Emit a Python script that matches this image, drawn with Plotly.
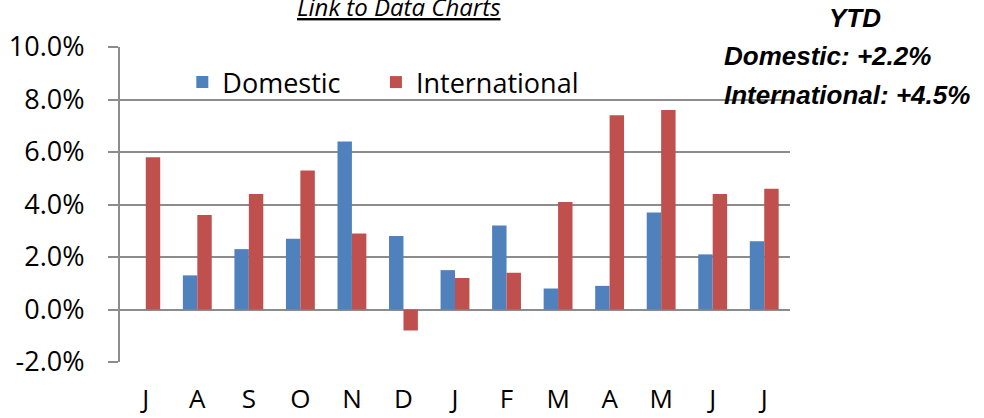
import plotly.graph_objects as go

# Monthly traffic growth, July through July
months = ["J", "A", "S", "O", "N", "D", "J", "F", "M", "A", "M", "J", "J"]
domestic = [None, 1.3, 2.3, 2.7, 6.4, 2.8, 1.5, 3.2, 0.8, 0.9, 3.7, 2.1, 2.6]
international = [5.8, 3.6, 4.4, 5.3, 2.9, -0.8, 1.2, 1.4, 4.1, 7.4, 7.6, 4.4, 4.6]

ytd_domestic = 2.2
ytd_international = 4.5

y_ticks = [-2, 0, 2, 4, 6, 8, 10]

BLUE = "#4F81BD"
RED = "#C0504D"
GRID = "#8C8C8C"
LABEL_FONT = "Open Sans"

x_idx = list(range(len(months)))
y_min, y_max = y_ticks[0], y_ticks[-1]

fig = go.Figure()
fig.add_trace(go.Bar(x=x_idx, y=domestic, name="Domestic", legend="legend",
                     marker=dict(color=BLUE, line=dict(width=0))))
fig.add_trace(go.Bar(x=x_idx, y=international, name="International",
                     legend="legend2",
                     marker=dict(color=RED, line=dict(width=0))))

legend_style = dict(
    orientation="h", xanchor="left", y=0.965, yanchor="top",
    bgcolor="rgba(0,0,0,0)", borderwidth=0,
    font=dict(family=LABEL_FONT, size=27, color="black"),
)

fig.update_layout(
    template="none",
    width=984, height=418,
    margin=dict(l=120, r=194, t=47, b=56, pad=0),
    paper_bgcolor="white", plot_bgcolor="white",
    barmode="group", bargap=0.44, bargroupgap=0,
    font=dict(family=LABEL_FONT, color="black"),
    showlegend=True,
    legend=dict(x=0.093, **legend_style),
    legend2=dict(x=0.382, **legend_style),
    xaxis=dict(
        range=[-0.5, len(months) - 0.5], automargin=False,
        tickmode="array", tickvals=x_idx, ticktext=months,
        ticks="", showline=False, showgrid=False, zeroline=False,
        tickfont=dict(family=LABEL_FONT, size=26, color="black"),
        ticklabelstandoff=19,
    ),
    # category axis drawn along the zero line, with ticks between months
    xaxis2=dict(
        overlaying="x", anchor="free", automargin=False,
        position=(0 - y_min) / (y_max - y_min),
        range=[-0.5, len(months) - 0.5],
        tickmode="array", tickvals=[i - 0.5 for i in range(len(months) + 1)],
        ticks="outside", ticklen=10, tickwidth=2, tickcolor=GRID,
        showticklabels=False, showline=True, linecolor=GRID, linewidth=2,
        showgrid=False, zeroline=False,
    ),
    yaxis=dict(
        range=[y_min, y_max], automargin=False,
        tickmode="array", tickvals=y_ticks,
        ticktext=[f"{v:.1f}%" for v in y_ticks],
        ticks="outside", ticklen=10, tickwidth=2, tickcolor=GRID,
        showline=True, linecolor=GRID, linewidth=2,
        showgrid=True, gridcolor=GRID, gridwidth=2,
        zeroline=False,
        tickfont=dict(family=LABEL_FONT, size=27, color="black"),
        ticklabelstandoff=18,
    ),
)

# white panels behind the legend and the YTD summary
fig.add_shape(type="rect", xref="paper", yref="paper",
              x0=0.0507, x1=0.736, y0=0.816, y1=0.952,
              fillcolor="white", line=dict(width=0), layer="between")
fig.add_shape(type="rect", xref="paper", yref="paper",
              x0=0.87, x1=1.3, y0=0.77, y1=1.2,
              fillcolor="white", line=dict(width=0), layer="between")

ytd_font = dict(family="Liberation Sans", size=26, color="black",
                weight="bold", style="italic")
fig.add_annotation(xref="paper", yref="paper", x=1.097, y=1.092,
                   text="YTD", showarrow=False, xanchor="center",
                   yanchor="middle", font=ytd_font)
fig.add_annotation(xref="paper", yref="paper", x=0.8985, y=0.9715,
                   text=f"Domestic: +{ytd_domestic:.1f}%", showarrow=False,
                   xanchor="left", yanchor="middle", font=ytd_font)
fig.add_annotation(xref="paper", yref="paper", x=0.8985, y=0.8475,
                   text=f"International: +{ytd_international:.1f}%",
                   showarrow=False, xanchor="left", yanchor="middle",
                   font=ytd_font)

# underlined link caption above the chart
fig.add_annotation(xref="paper", yref="paper", x=0.416, y=1.128,
                   text="Link to Data Charts", showarrow=False,
                   xanchor="center", yanchor="middle",
                   font=dict(family=LABEL_FONT, size=24, color="black",
                             style="italic", lineposition="under"))

fig.write_html("out.html")
